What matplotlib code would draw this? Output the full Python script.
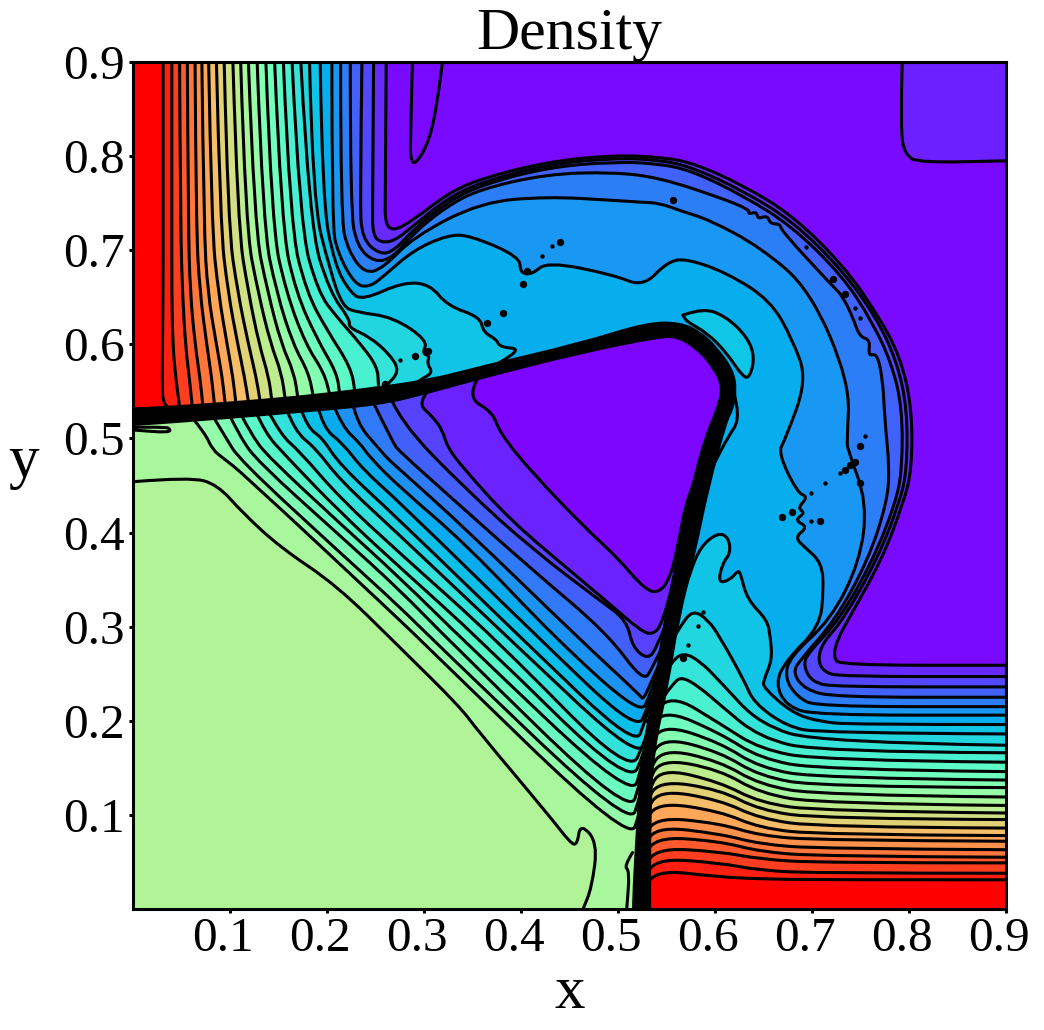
import matplotlib
matplotlib.use("Agg")
import matplotlib.pyplot as plt
from matplotlib.patches import PathPatch
from matplotlib.path import Path
from matplotlib.transforms import ScaledTranslation

# contours that run from the top edge, round the shock, to the right edge (most purple first)
shock_lines = [
    [(.261, .9), (.260, .753), (.260, .729), (.268, .720), (.289, .732), (.324, .760), (.358, .776), (.427, .794),
     (.495, .801), (.543, .799), (.577, .793), (.629, .769), (.680, .737), (.732, .684), (.767, .633), (.791, .587),
     (.803, .533), (.803, .467), (.794, .431), (.772, .371), (.737, .307), (.726, .286), (.722, .268), (.729, .259),
     (.9, .259)],
    [(.248, .9), (.247, .75), (.247, .717), (.255, .708), (.270, .710), (.289, .726), (.324, .755), (.358, .772),
     (.427, .791), (.495, .798), (.543, .796), (.577, .788), (.629, .763), (.680, .731), (.732, .678), (.767, .627),
     (.787, .583), (.798, .533), (.798, .467), (.790, .431), (.767, .371), (.732, .307), (.711, .283), (.706, .265),
     (.712, .252), (.729, .247), (.9, .247)],
    [(.236, .9), (.234, .753), (.236, .712), (.255, .695), (.270, .700), (.289, .722), (.324, .751), (.358, .769),
     (.427, .788), (.495, .794), (.543, .792), (.577, .784), (.629, .758), (.680, .725), (.732, .672), (.762, .624),
     (.782, .580), (.793, .533), (.793, .467), (.786, .431), (.763, .371), (.728, .307), (.696, .272), (.691, .259),
     (.700, .241), (.724, .236), (.9, .236)],
    [(.224, .9), (.224, .743), (.231, .704), (.249, .687), (.268, .692), (.289, .718), (.324, .747), (.358, .765),
     (.427, .781), (.495, .783), (.543, .777), (.605, .756), (.636, .743), (.634, .738), (.643, .741), (.644, .733),
     (.654, .737), (.657, .728), (.667, .728), (.669, .720), (.722, .661), (.731, .652), (.742, .629), (.749, .608),
     (.760, .605), (.758, .587), (.767, .591), (.773, .562), (.775, .520), (.780, .467), (.777, .431), (.758, .371),
     (.724, .307), (.688, .265), (.680, .251), (.693, .233), (.724, .225), (.9, .225)],
    [(.214, .9), (.214, .734), (.222, .699), (.239, .675), (.258, .681), (.289, .714), (.358, .751), (.427, .757),
     (.495, .753), (.524, .751), (.543, .750), (.564, .742), (.595, .732), (.647, .703), (.698, .658), (.739, .559),
     (.736, .497), (.737, .488), (.757, .431), (.749, .368), (.719, .307), (.677, .268), (.672, .245), (.685, .225),
     (.705, .215), (.9, .215)],
    [(.205, .9), (.205, .728), (.211, .697), (.229, .663), (.244, .661), (.258, .672), (.289, .700), (.324, .716),
     (.347, .716), (.399, .693), (.399, .676), (.411, .674), (.427, .688), (.495, .674), (.526, .661), (.551, .688),
     (.571, .691), (.612, .676), (.657, .647), (.680, .605), (.695, .562), (.672, .498), (.665, .485), (.685, .442),
     (.696, .438), (.685, .426), (.693, .421), (.682, .413), (.696, .406), (.682, .395), (.693, .384), (.710, .368),
     (.712, .339), (.708, .300), (.674, .265), (.662, .240), (.674, .215), (.705, .206), (.9, .206)],
]

# contours from the top edge down to the upper slip line, level index 6 to 25
upper_lines = [
    [(.193, .9), (.195, .753), (.208, .684), (.224, .655), (.237, .647), (.278, .666), (.306, .664), (.324, .641),
     (.358, .629), (.361, .613), (.375, .605), (.378, .597), (.402, .595), (.358, .569), (.340, .560)],
    [(.182, .9), (.185, .753), (.203, .679), (.216, .640), (.231, .634), (.268, .629), (.304, .604), (.298, .590),
     (.306, .588), (.303, .580), (.309, .570), (.299, .564), (.289, .557)],
    [(.173, .9), (.182, .725), (.203, .655), (.224, .626), (.222, .618), (.244, .608), (.265, .589), (.275, .571),
     (.260, .555)],
    [(.164, .9), (.172, .725), (.191, .655), (.210, .629), (.235, .600), (.252, .576), (.253, .557)],
    [(.155, .9), (.162, .725), (.179, .655), (.200, .615), (.225, .575), (.229, .548)],
    [(.146, .9), (.153, .725), (.168, .655), (.190, .605), (.210, .570), (.213, .548)],
    [(.137, .9), (.143, .725), (.158, .655), (.178, .600), (.197, .570), (.203, .546)],
    [(.128, .9), (.134, .725), (.148, .655), (.165, .600), (.181, .570), (.186, .544)],
    [(.119, .9), (.125, .725), (.139, .655), (.153, .600), (.166, .570), (.170, .543)],
    [(.111, .9), (.116, .725), (.129, .655), (.142, .600), (.153, .570), (.157, .541)],
    [(.103, .9), (.108, .725), (.119, .655), (.130, .600), (.140, .565), (.143, .541)],
    [(.094, .9), (.098, .725), (.108, .655), (.119, .600), (.127, .565), (.131, .540)],
    [(.086, .9), (.090, .725), (.098, .655), (.108, .600), (.115, .565), (.119, .539)],
    [(.078, .9), (.081, .725), (.088, .655), (.097, .600), (.103, .565), (.106, .538)],
    [(.071, .9), (.073, .725), (.077, .655), (.086, .600), (.092, .565), (.095, .537)],
    [(.064, .9), (.065, .725), (.069, .655), (.076, .600), (.081, .565), (.084, .536)],
    [(.056, .9), (.057, .725), (.059, .655), (.064, .600), (.069, .565), (.072, .535)],
    [(.048, .9), (.049, .725), (.051, .655), (.054, .600), (.058, .565), (.061, .535)],
    [(.040, .9), (.040, .725), (.040, .655), (.041, .600), (.044, .565), (.048, .534)],
    [(.031, .9), (.031, .725), (.031, .655), (.030, .555), (.031, .539), (.036, .533)],
]

# contours from the right edge to the lower shock, level index 6 to 25
lower_lines = [
    [(.9, .196), (.742, .196), (.708, .199), (.680, .208), (.650, .235), (.650, .243), (.659, .265), (.657, .289),
     (.654, .307), (.633, .329), (.626, .358), (.623, .359), (.616, .350), (.603, .346), (.608, .368), (.616, .378),
     (.614, .395), (.603, .400), (.585, .385), (.574, .357), (.566, .328), (.555, .293)],
    [(.9, .186), (.708, .187), (.674, .194), (.640, .219), (.630, .243), (.605, .289), (.593, .307), (.577, .318),
     (.564, .300), (.552, .278)],
    [(.9, .174), (.708, .177), (.646, .196), (.605, .242), (.585, .263), (.567, .273), (.554, .261), (.540, .235)],
    [(.9, .166), (.708, .167), (.646, .182), (.605, .217), (.585, .235), (.566, .247), (.557, .240), (.540, .215)],
    [(.9, .156), (.708, .158), (.646, .170), (.605, .197), (.554, .229), (.530, .199)],
    [(.9, .146), (.708, .148), (.646, .160), (.605, .187), (.546, .213), (.530, .183)],
    [(.9, .137), (.708, .139), (.646, .150), (.605, .177), (.545, .197), (.530, .167)],
    [(.9, .129), (.708, .130), (.646, .141), (.605, .167), (.545, .183), (.530, .153)],
    [(.9, .119), (.708, .121), (.646, .132), (.605, .157), (.545, .171), (.530, .141)],
    [(.9, .110), (.708, .112), (.646, .123), (.605, .148), (.543, .160), (.530, .130)],
    [(.9, .102), (.708, .104), (.646, .113), (.605, .135), (.543, .150), (.530, .120)],
    [(.9, .095), (.708, .096), (.646, .105), (.605, .127), (.540, .137), (.528, .107)],
    [(.9, .086), (.708, .087), (.646, .096), (.605, .116), (.540, .127), (.528, .097)],
    [(.9, .078), (.708, .079), (.646, .086), (.605, .104), (.538, .114), (.526, .084)],
    [(.9, .072), (.708, .073), (.646, .078), (.605, .091), (.536, .098), (.526, .068)],
    [(.9, .063), (.708, .064), (.646, .069), (.605, .080), (.536, .088), (.526, .058)],
    [(.9, .055), (.708, .056), (.646, .061), (.605, .072), (.536, .077), (.526, .047)],
    [(.9, .049), (.708, .049), (.646, .053), (.605, .061), (.536, .065), (.526, .035)],
    [(.9, .038), (.708, .038), (.646, .041), (.605, .049), (.536, .054), (.526, .024)],
    [(.9, .031), (.708, .031), (.646, .032), (.605, .034), (.536, .042), (.526, .012)],
]

# contours in the wedge below the slip lines, level index 0 to 15
wedge_lines = [
    [(.356, .565), (.344, .544), (.371, .528), (.378, .506), (.412, .463), (.468, .403), (.499, .374), (.528, .339),
     (.543, .336), (.554, .353), (.561, .382), (.572, .442), (.600, .500)],
    [(.306, .553), (.293, .538), (.309, .523), (.319, .509), (.324, .491), (.340, .469), (.389, .413), (.458, .353),
     (.495, .321), (.523, .296), (.536, .291), (.546, .304), (.560, .360)],
    [(.265, .545), (.275, .518), (.344, .445), (.412, .382), (.481, .328), (.509, .307), (.515, .278), (.531, .265),
     (.540, .278), (.560, .330)],
    [(.246, .542), (.268, .495), (.275, .486), (.327, .438), (.412, .360), (.489, .293), (.526, .241), (.536, .257),
     (.560, .310)],
    [(.226, .539), (.231, .516), (.252, .491), (.262, .479), (.275, .467), (.344, .403), (.461, .286), (.523, .227),
     (.526, .222), (.535, .243), (.560, .300)],
    [(.206, .537), (.216, .512), (.234, .495), (.244, .480), (.275, .448), (.344, .387), (.437, .286), (.523, .206),
     (.533, .227), (.550, .280)],
    [(.190, .536), (.196, .511), (.216, .495), (.237, .467), (.275, .432), (.420, .286), (.520, .188), (.531, .217),
     (.550, .260)],
    [(.172, .534), (.180, .511), (.195, .501), (.213, .472), (.275, .413), (.402, .286), (.518, .172), (.528, .201),
     (.545, .250)],
    [(.157, .534), (.167, .507), (.188, .490), (.213, .456), (.275, .397), (.389, .286), (.521, .158), (.531, .190),
     (.540, .230)],
    [(.139, .530), (.152, .504), (.172, .486), (.213, .437), (.275, .378), (.375, .286), (.512, .142), (.528, .180),
     (.540, .210)],
    [(.126, .530), (.136, .506), (.157, .482), (.213, .422), (.275, .363), (.358, .286), (.512, .130), (.528, .169),
     (.535, .200)],
    [(.110, .528), (.123, .502), (.141, .479), (.213, .410), (.275, .352), (.340, .286), (.514, .116), (.525, .153),
     (.530, .180)],
    [(.098, .528), (.110, .502), (.129, .475), (.213, .397), (.275, .339), (.325, .286), (.512, .098), (.523, .137),
     (.530, .160)],
    [(.081, .526), (.095, .502), (.110, .477), (.213, .379), (.275, .321), (.309, .286), (.512, .086), (.523, .121),
     (.530, .150)],
    [(.061, .522), (.074, .506), (.082, .488), (.093, .479), (.113, .463), (.275, .307), (.296, .286), (.512, .070),
     (.523, .105), (.530, .130)],
    [(.0, .454), (.059, .459), (.087, .451), (.113, .421), (.152, .384), (.210, .344), (.275, .278), (.337, .215),
     (.355, .190), (.430, .098), (.451, .070), (.458, .068), (.461, .091), (.479, .071), (.473, .023), (.464, .0)],
]

# the thick black slip line / shock, both edges (running past the frame so the ends stay square)
band_upper = [(-.05, .530), (0, .532), (.031, .533), (.100, .538), (.169, .544), (.237, .552), (.306, .562),
              (.358, .576), (.461, .601), (.530, .623), (.564, .623), (.585, .613), (.602, .596), (.618, .573),
              (.622, .552), (.618, .530), (.612, .520), (.593, .448), (.579, .378), (.562, .307), (.551, .236),
              (.536, .166), (.533, .095), (.533, 0), (.533, -.05)]
band_lower = [(.515, -.05), (.515, 0), (.520, .095), (.525, .166), (.538, .236), (.548, .307), (.562, .378),
              (.576, .448), (.590, .502), (.602, .530), (.608, .555), (.598, .576), (.581, .596), (.561, .608),
              (.543, .608), (.461, .591), (.358, .564), (.306, .549), (.255, .536), (.169, .528), (.100, .522),
              (0, .514), (-.05, .512)]

crescent = [(.567, .631), (.588, .639), (.612, .629), (.633, .608), (.641, .587), (.636, .565), (.629, .565),
            (.612, .591), (.592, .612), (.571, .624), (.567, .631)]
nose_line = [(.619, .550), (.627, .523), (.612, .499), (.600, .475), (.590, .455)]
top_loop = [(.288, .9), (.286, .817), (.286, .798), (.291, .790), (.306, .817), (.314, .860), (.319, .9)]
corner_line = [(.793, .9), (.791, .828), (.796, .801), (.811, .793), (.9, .795)]
left_tab = [(.0, .512), (.031, .512), (.038, .511), (.038, .506), (.0, .509)]
foot_line = [(.515, .060), (.506, .045), (.512, .041), (.509, .0)]

big_dots = [(.406, .678), (.402, .664), (.381, .633), (.365, .623), (.291, .588), (.304, .593), (.440, .709),
            (.260, .558), (.722, .669), (.734, .654), (.739, .472), (.734, .467), (.744, .475), (.749, .453),
            (.669, .417), (.679, .422), (.708, .412), (.749, .492), (.567, .267), (.557, .753)]
small_dots = [(.432, .704), (.422, .694), (.275, .583), (.749, .628), (.744, .639), (.694, .703), (.755, .503),
              (.729, .463), (.713, .453), (.699, .412), (.699, .442), (.588, .316), (.582, .301), (.572, .281)]

tick_values = [.1, .2, .3, .4, .5, .6, .7, .8, .9]

BG_LEVEL = .015
CORNER_LEVEL = .04
GREEN_LEVEL = .595
cmap = plt.get_cmap("rainbow")


def high_side(i):
    return min(1.0, (i + 1) / 26.5 + .015)


def low_side(i):
    return i / 26.5 + .008


def smooth(points):
    verts = [points[0]]
    codes = [Path.MOVETO]
    for a, b in zip(points[1:-1], points[2:]):
        verts += [a, ((a[0] + b[0]) / 2, (a[1] + b[1]) / 2)]
        codes += [Path.CURVE3, Path.CURVE3]
    verts.append(points[-1])
    codes.append(Path.LINETO)
    return verts, codes


def fill(ax, points, closing, color, clip=None, zorder=2, edge="none"):
    verts, codes = smooth(points)
    verts = verts + closing + [points[0]]
    codes = codes + [Path.LINETO] * len(closing) + [Path.CLOSEPOLY]
    patch = PathPatch(Path(verts, codes), facecolor=color, edgecolor=edge, linewidth=1.6, zorder=zorder)
    ax.add_patch(patch)
    if clip is not None:
        patch.set_clip_path(clip)
    return patch


def contour(ax, points):
    verts, codes = smooth(points)
    ax.add_patch(PathPatch(Path(verts, codes), fill=False, edgecolor="black", linewidth=2.2,
                           joinstyle="round", capstyle="round", zorder=5))


fig = plt.figure(figsize=(10.44, 10.30), dpi=100)
ax = fig.add_axes([133 / 1044, 121 / 1030, 873 / 1044, 847 / 1030])
ax.set_facecolor(cmap(BG_LEVEL))

fill(ax, corner_line, [(.9, .9)], cmap(CORNER_LEVEL))
for i, line in enumerate(shock_lines):
    fill(ax, line, [(.9, 0), (0, 0), (0, .9)], cmap(high_side(i)))
for i, line in enumerate(upper_lines):
    fill(ax, line, [(0, .5), (0, .9)], cmap(high_side(i + 6)))
for i, line in enumerate(lower_lines):
    fill(ax, line, [(.5, 0), (.9, 0)], cmap(high_side(i + 6)))
fill(ax, crescent, [], cmap(.285))

# everything under the slip lines is painted over the rest
region = fill(ax, band_lower, [(-.05, -.05)], cmap(GREEN_LEVEL))
fill(ax, wedge_lines[15], [(.56, 0), (.64, .5), (.64, .7), (.3, .64), (0, .55)], cmap(.58), clip=region)
for i in range(14, -1, -1):
    fill(ax, wedge_lines[i], [(.64, .5), (.64, .7), (.3, .64)], cmap(low_side(i)), clip=region)

fill(ax, band_upper + band_lower, [], "black", zorder=6, edge="black")

for line in shock_lines + upper_lines + lower_lines + wedge_lines:
    contour(ax, line)
for line in [crescent, nose_line, top_loop, corner_line, left_tab, foot_line]:
    contour(ax, line)

ax.scatter([p[0] for p in big_dots], [p[1] for p in big_dots], s=28, color="black", linewidths=0, zorder=5)
ax.scatter([p[0] for p in small_dots], [p[1] for p in small_dots], s=10, color="black", linewidths=0, zorder=5)

ax.set_xlim(0, .9)
ax.set_ylim(0, .9)
ax.set_xticks(tick_values)
ax.set_yticks(tick_values)
ax.set_xticklabels([f"{v:.1f}" for v in tick_values], family="Liberation Serif", fontsize=35.5)
ax.set_yticklabels([f"{v:.1f}" for v in tick_values], family="Liberation Serif", fontsize=35.5)
ax.tick_params(length=3, width=2.2, pad=3)
for label in ax.get_xticklabels():
    label.set_transform(label.get_transform() + ScaledTranslation(-7 / 100, 0, fig.dpi_scale_trans))
for spine in ax.spines.values():
    spine.set_linewidth(2.2)
    spine.set_zorder(8)

ax.set_title("Density", family="Liberation Serif", fontsize=43, pad=1)
ax.set_xlabel("x", family="Liberation Serif", fontsize=44, labelpad=3)
ax.set_ylabel("y", family="Liberation Serif", fontsize=44, rotation=0, labelpad=28)
ax.yaxis.label.set_y(.495)

plt.savefig("out.png", dpi=100)
plt.close()
